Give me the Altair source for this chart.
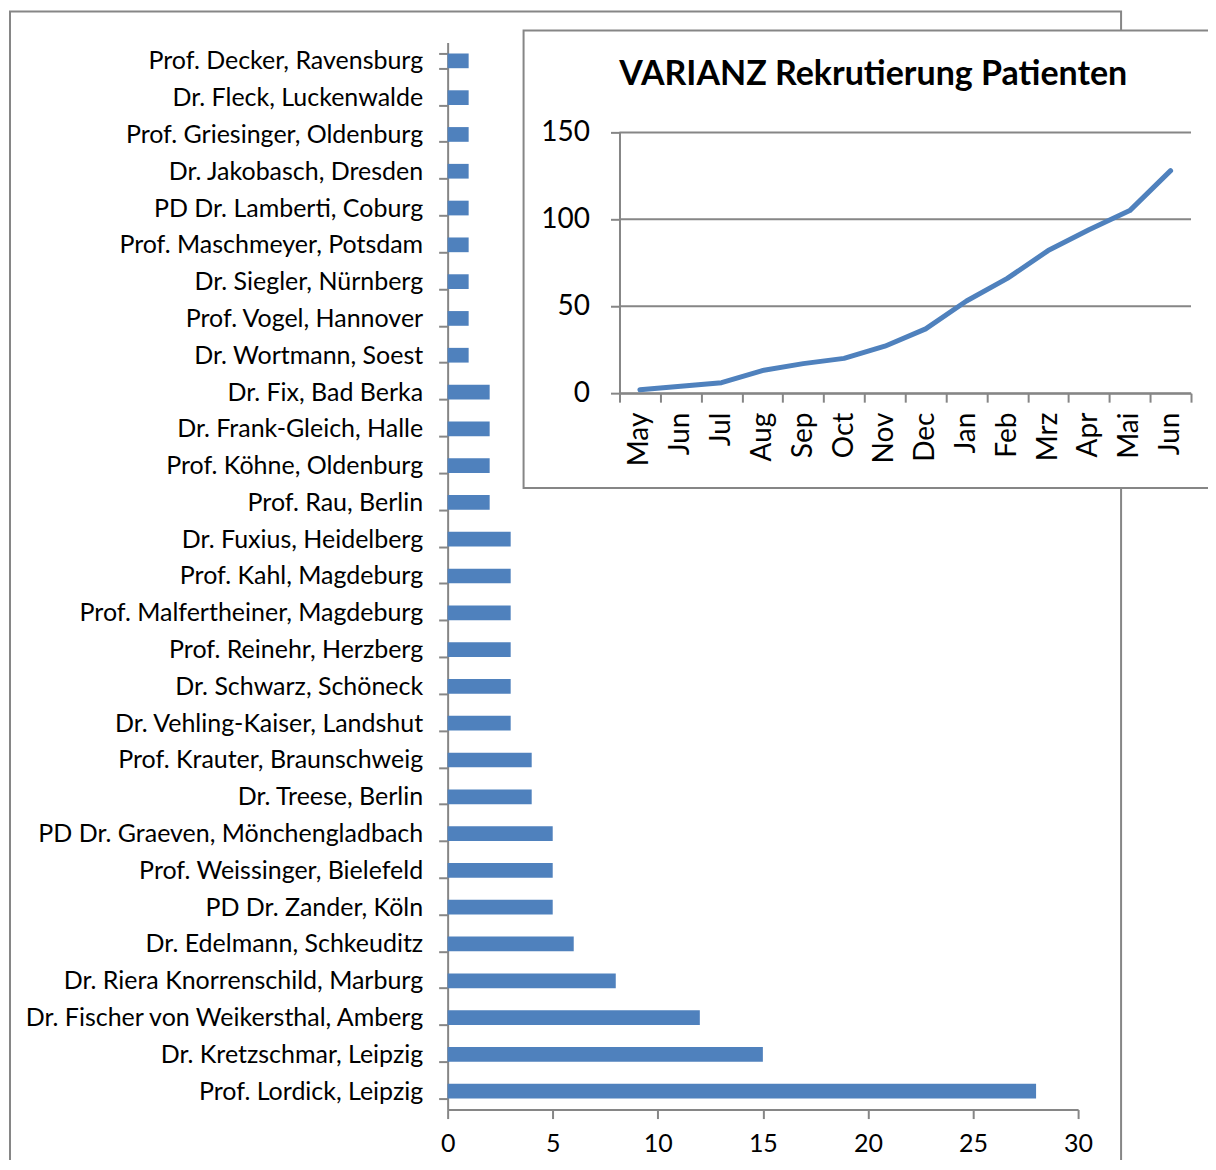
import altair as alt
import pandas as pd

# ---------------- data ----------------
names = [
    "Prof. Decker, Ravensburg",
    "Dr. Fleck, Luckenwalde",
    "Prof. Griesinger, Oldenburg",
    "Dr. Jakobasch, Dresden",
    "PD Dr. Lamberti, Coburg",
    "Prof. Maschmeyer, Potsdam",
    "Dr. Siegler, Nürnberg",
    "Prof. Vogel, Hannover",
    "Dr. Wortmann, Soest",
    "Dr. Fix, Bad Berka",
    "Dr. Frank-Gleich, Halle",
    "Prof. Köhne, Oldenburg",
    "Prof. Rau, Berlin",
    "Dr. Fuxius, Heidelberg",
    "Prof. Kahl, Magdeburg",
    "Prof. Malfertheiner,  Magdeburg",
    "Prof. Reinehr, Herzberg",
    "Dr. Schwarz, Schöneck ",
    "Dr. Vehling-Kaiser, Landshut",
    "Prof. Krauter, Braunschweig",
    "Dr. Treese, Berlin",
    "PD Dr. Graeven, Mönchengladbach",
    "Prof. Weissinger, Bielefeld",
    "PD Dr. Zander, Köln ",
    "Dr. Edelmann, Schkeuditz",
    "Dr. Riera Knorrenschild, Marburg",
    "Dr. Fischer von Weikersthal, Amberg",
    "Dr. Kretzschmar, Leipzig",
    "Prof. Lordick, Leipzig",
]
counts = [1, 1, 1, 1, 1, 1, 1, 1, 1,
          2, 2, 2, 2,
          3, 3, 3, 3, 3, 3,
          4, 4,
          5, 5, 5,
          6, 8, 12, 15, 28]

months = ["May", "Jun", "Jul", "Aug", "Sep", "Oct", "Nov", "Dec",
          "Jan", "Feb", "Mrz", "Apr", "Mai", "Jun"]
cumulative = [2, 4, 6, 13, 17, 20, 27, 37, 53, 66, 82, 94, 105, 128]

inset_title = "VARIANZ Rekrutierung Patienten"
bar_x_ticks = [0, 5, 10, 15, 20, 25, 30]
inset_y_ticks = [0, 50, 100, 150]

# ---------------- style ----------------
FONT = "Lato"
GRAY = "#868686"
BLUE = "#4F81BD"

bars_df = pd.DataFrame({"name": names, "count": counts})
line_df = pd.DataFrame({
    "key": [f"{i:02d}|{m}" for i, m in enumerate(months)],
    "value": cumulative,
})
grid_df = pd.DataFrame({"value": inset_y_ticks})
one = pd.DataFrame({"t": [inset_title]})

# outer frame of the main chart (decoration)
main_frame = alt.Chart(one).mark_rect(
    filled=False, stroke=GRAY, strokeWidth=2
).encode(
    x=alt.value(-438), x2=alt.value(674), y=alt.value(-31), y2=alt.value(1300)
)

bars = alt.Chart(bars_df).mark_bar(color=BLUE).encode(
    y=alt.Y(
        "name:N", sort=names,
        scale=alt.Scale(paddingInner=0.6, paddingOuter=0.3),
        axis=alt.Axis(
            title=None, tickBand="extent", labelFont=FONT, labelFontSize=25,
            labelColor="black", labelPadding=16, labelLimit=700,
            tickSize=9, tickColor=GRAY, tickWidth=2,
            domainColor=GRAY, domainWidth=2,
        ),
    ),
    x=alt.X(
        "count:Q", scale=alt.Scale(domain=[0, 30], nice=False),
        axis=alt.Axis(
            title=None, values=bar_x_ticks, grid=False, labelFont=FONT,
            labelFontSize=25, labelColor="black", labelPadding=13,
            labelFlush=False,
            tickSize=9, tickColor=GRAY, tickWidth=2,
            domainColor=GRAY, domainWidth=2,
        ),
    ),
)

main = alt.layer(main_frame, bars)

# ---------------- inset ----------------
inset_box = alt.Chart(one).mark_rect(
    fill="white", stroke=GRAY, strokeWidth=2
).encode(
    x=alt.value(76), x2=alt.value(800), y=alt.value(-12), y2=alt.value(446)
)

y_inset = alt.Scale(domain=[0, 150], range=[351, 90], nice=False)
x_inset = alt.Scale(type="band", range=[172, 744], paddingInner=0, paddingOuter=0)

y_inset_axis = alt.Axis(
    title=None, orient="left", offset=-172, values=inset_y_ticks,
    grid=False, labelFont=FONT, labelFontSize=28, labelColor="black",
    labelPadding=21, tickSize=9, tickColor=GRAY, tickWidth=2,
    domainColor=GRAY, domainWidth=2, zindex=2,
)

grid = alt.Chart(grid_df).mark_rule(color=GRAY, strokeWidth=2).encode(
    y=alt.Y("value:Q", scale=y_inset, axis=y_inset_axis),
    x=alt.value(172),
    x2=alt.value(744),
)

line = alt.Chart(line_df).mark_line(
    color=BLUE, strokeWidth=5, strokeCap="round", strokeJoin="round"
).encode(
    x=alt.X(
        "key:O", scale=x_inset, sort="ascending",
        axis=alt.Axis(
            title=None, orient="bottom", offset=-717, tickBand="extent",
            labelAngle=270, labelExpr="split(datum.value, '|')[1]",
            labelFont=FONT, labelFontSize=28, labelColor="black",
            labelPadding=10, tickSize=9, tickColor=GRAY, tickWidth=2,
            domainColor=GRAY, domainWidth=2, zindex=2,
        ),
    ),
    y=alt.Y("value:Q", scale=y_inset, axis=y_inset_axis),
)

title = alt.Chart(one).mark_text(
    font=FONT, fontSize=34, fontWeight="bold", color="black",
    align="center", baseline="middle",
).encode(text="t:N", x=alt.value(426), y=alt.value(33))

inset = alt.layer(inset_box, grid, line, title)

chart = alt.layer(main, inset).resolve_scale(
    x="independent", y="independent"
).properties(
    width=631, height=1068,
    autosize=alt.AutoSizeParams(type="none"),
    padding={"left": 440, "top": 34, "right": 130, "bottom": 50},
    background="white",
).configure_view(stroke=None)

chart.save("out.html", embed_options={"renderer": "svg", "actions": False})
